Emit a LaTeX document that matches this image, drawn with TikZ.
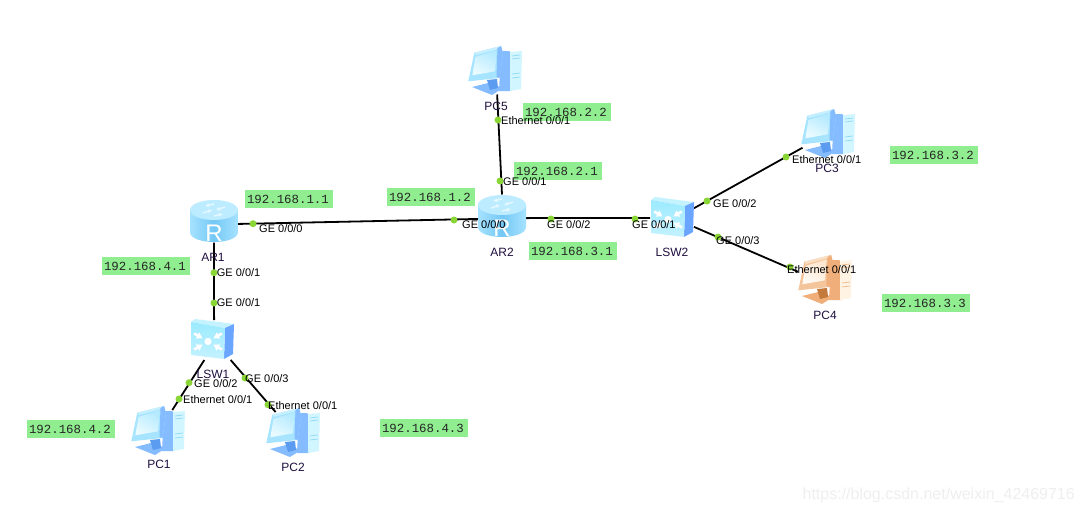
\documentclass[tikz,border=0pt]{standalone}
\usepackage{fontspec}
\setmainfont{Liberation Sans}
\newfontfamily\ipfont{Liberation Mono}
\usetikzlibrary{arrows.meta}
\definecolor{ipgreen}{HTML}{90EE90}
\definecolor{dotgreen}{HTML}{8AD637}
\definecolor{labelpurple}{HTML}{1F0F3F}
\definecolor{wmgray}{HTML}{EFEFEF}
\definecolor{routerA}{HTML}{74C8F5}
\definecolor{routerB}{HTML}{A6E2FF}
\definecolor{routerC}{HTML}{BDEBFF}
\definecolor{routerD}{HTML}{E4F8FF}
\definecolor{switchA}{HTML}{9CEAFF}
\definecolor{switchB}{HTML}{6AA6FF}
\definecolor{switchC}{HTML}{C4F2FF}
\definecolor{pcA}{HTML}{D2F6FF}
\definecolor{pcB}{HTML}{85BCFF}
\definecolor{pcC}{HTML}{8FD8F8}
\definecolor{pcD}{HTML}{5C9CF0}
\definecolor{pcE}{HTML}{A6E4FF}
\definecolor{pcF}{HTML}{C6F0FF}
\definecolor{pcG}{HTML}{B5EAFF}
\definecolor{pcH}{HTML}{EAFBFF}
\definecolor{orA}{HTML}{FFF3E4}
\definecolor{orB}{HTML}{EFAE7A}
\definecolor{orC}{HTML}{EDB98C}
\definecolor{orD}{HTML}{C47A3C}
\definecolor{orE}{HTML}{F4C49A}
\definecolor{orF}{HTML}{F9DFC4}
\definecolor{orG}{HTML}{FDE6CF}
\definecolor{orH}{HTML}{FFFAF3}
\newcommand{\pcicon}[9]{%
 \begin{scope}[shift={(#1)}]
  % tower
  \fill[#3] (6,-19) -- (14,-19) -- (16,-17) -- (16,21) -- (4,21) -- cycle;
  \fill[#2] (15,-18) -- (27,-19) -- (26,19) -- (15,21) -- cycle;
  \draw[#4,line width=.7pt] (17,-14) -- (25,-15) (17,-11) -- (25,-12) (17,4) -- (25,3) (17,8) -- (25,7);
  % stand
  \fill[#3] (-23,17) -- (-7,13) -- (8,18) -- (-3,25) -- cycle;
  \fill[#5] (-8,10) -- (2,9) -- (3,18) -- (-5,20) -- cycle;
  % monitor
  \fill[#6] (-20.7,-17.3) -- (6,-24) -- (8,-17) -- (4.5,8) -- (-26.7,11.3) -- cycle;
  \fill[#7] (-20.7,-17.3) -- (6,-24) -- (3.3,-21) -- (-19,-15) -- cycle;
  \shade[left color=#8,right color=#9,shading angle=-30] (-19.5,-13) -- (1.7,-19.7) -- (0,1.3) -- (-22.7,5.3) -- cycle;
  \fill[#3] (2.5,-22) -- (6,-24) -- (8,-17) -- (4.5,8) -- (1.5,7) -- cycle;
 \end{scope}}
\tikzset{rarrow/.style={routerD,line width=1.5pt,-{Latex[length=4pt,width=4.5pt]}}}
\newcommand{\routericon}[1]{%
 \begin{scope}[shift={(#1)}]
  \shade[left color=routerB,right color=routerB,middle color=routerA]
    (-24,-11) -- (-24,11) .. controls (-24,24.3) and (24,24.3) .. (24,11) -- (24,-11) -- cycle;
  \fill[routerC] (0,-11) ellipse[x radius=24,y radius=10];
  \draw[rarrow] (-11,-8) -- (-2,-11);
  \draw[rarrow] (11,-14) -- (2,-11);
  \draw[rarrow] (0,-17) -- (-9,-15);
  \draw[rarrow] (0,-5) -- (9,-7);
  \node[font=\fontsize{24}{24}\selectfont,text=white,inner sep=0pt] at (0,12.5) {R};
 \end{scope}}
\newcommand{\switchicon}[1]{%
 \begin{scope}[shift={(#1)}]
  \fill[switchC] (-21,-18) -- (-17,-21) -- (22,-16) -- (13,-12) -- cycle;
  \fill[switchB] (13,-12) -- (22,-16) -- (21,14) -- (12,19) -- cycle;
  \shade[top color=switchA,bottom color=switchC] (-21,-18) -- (13,-12) -- (12,19) -- (-21,15) -- cycle;
  \fill[white] (-4,1.5) circle[radius=3.6];
  \foreach \ang in {30,150,210,330}{
    \draw[white,line width=2.6pt,-{Latex[length=6pt,width=8pt]},shift={(-4,1.5)}] (\ang:16) -- (\ang:6);}
 \end{scope}}
\tikzset{
  devbox/.style={inner sep=0pt,outer sep=0pt,rectangle},
  conn/.style={draw=black,line width=1.8pt},
  connpc/.style={conn,shorten >=-6pt},
  port/.style={circle,fill=dotgreen,inner sep=0pt,minimum size=7pt},
  plabel/.style={font=\fontsize{11}{12}\selectfont,anchor=west,inner sep=0pt,text=black},
  devlabel/.style={font=\fontsize{12}{13}\selectfont,inner sep=0pt,text=labelpurple},
  ipbox/.style={fill=ipgreen,anchor=north west,inner sep=0pt,minimum width=87.5pt,minimum height=17.5pt,
     font=\ipfont\fontsize{12.4}{13}\selectfont,text=black!85,execute at begin node={\hspace*{-2pt}}},
  wmark/.style={font=\fontsize{16}{17}\selectfont,text=wmgray,inner sep=0pt,anchor=east}
}
\begin{document}
\begin{tikzpicture}[x=1pt,y=-1pt]
\useasboundingbox (0,0) rectangle (1084,514);
\fill[white] (0,0) rectangle (1084,514);
% device footprints
\node[devbox,minimum width=48pt,minimum height=43pt] (AR1) at (214,221) {};
\node[devbox,minimum width=48pt,minimum height=43pt] (AR2) at (502,216) {};
\node[devbox,minimum width=43pt,minimum height=40pt] (LSW1) at (212,340) {};
\node[devbox,minimum width=44pt,minimum height=41pt] (LSW2) at (672,218) {};
\node[devbox,minimum width=53pt,minimum height=50pt] (PC1) at (158,430) {};
\node[devbox,minimum width=51pt,minimum height=49pt] (PC2) at (293,432) {};
\node[devbox,minimum width=51pt,minimum height=50pt] (PC3) at (828,133) {};
\node[devbox,minimum width=54pt,minimum height=48pt] (PC4) at (825,279) {};
\node[devbox,minimum width=53pt,minimum height=49pt] (PC5) at (495,70) {};
% connectors
\draw[conn] (AR1.353) -- (AR2.187);
\draw[conn] (AR1.south) -- (LSW1.84);
\draw[connpc] (LSW1.249) -- (PC1.55);
\draw[connpc] (LSW1.313) -- (PC2.131);
\draw[conn] (PC5.275) -- (AR2.north);
\draw[conn] (AR2.355) -- (LSW2.west);
\draw[conn] (LSW2.24) -- (PC3.210);
\draw[conn] (LSW2.338) -- (PC4.165);
% icons
\routericon{214,221}
\routericon{502,216}
\switchicon{212,340}
\switchicon{672,218}
\pcicon{158,430}{pcA}{pcB}{pcC}{pcD}{pcE}{pcF}{pcG}{pcH}
\pcicon{293,432}{pcA}{pcB}{pcC}{pcD}{pcE}{pcF}{pcG}{pcH}
\pcicon{828,133}{pcA}{pcB}{pcC}{pcD}{pcE}{pcF}{pcG}{pcH}
\pcicon{495,70}{pcA}{pcB}{pcC}{pcD}{pcE}{pcF}{pcG}{pcH}
\pcicon{825,279}{orA}{orB}{orC}{orD}{orE}{orF}{orG}{orH}
% IP boxes
\node[ipbox] (ip11) at (245,190) {192.168.1.1};
\node[ipbox] (ip12) at (387,188) {192.168.1.2};
\node[ipbox] (ip41) at (102,257) {192.168.4.1};
\node[ipbox] (ip42) at (27,420) {192.168.4.2};
\node[ipbox] (ip43) at (380,419) {192.168.4.3};
\node[ipbox] (ip22) at (523,103) {192.168.2.2};
\node[ipbox] (ip21) at (514,162) {192.168.2.1};
\node[ipbox] (ip31) at (529,242) {192.168.3.1};
\node[ipbox] (ip32) at (890,146) {192.168.3.2};
\node[ipbox] (ip33) at (882,294) {192.168.3.3};
% ports
\node[port] (p1) at (253,223.7) {};
\node[port] (p2) at (214,272.7) {};
\node[port] (p3) at (214,303) {};
\node[port] (p4) at (189,382.7) {};
\node[port] (p5) at (179,399) {};
\node[port] (p6) at (245,378) {};
\node[port] (p7) at (268,404.7) {};
\node[port] (p8) at (498,120) {};
\node[port] (p9) at (500,181) {};
\node[port] (p10) at (454,220) {};
\node[port] (p11) at (551,219) {};
\node[port] (p12) at (635,219) {};
\node[port] (p13) at (707,201) {};
\node[port] (p14) at (718,237) {};
\node[port] (p15) at (786,157) {};
\node[port] (p16) at (790,267) {};
% port labels
\node[plabel] (l1) at (259,229) {GE 0/0/0};
\node[plabel] (l2) at (216.7,272.7) {GE 0/0/1};
\node[plabel] (l3) at (216.7,303) {GE 0/0/1};
\node[plabel] (l4) at (194,384) {GE 0/0/2};
\node[plabel] (l5) at (183,400) {Ethernet 0/0/1};
\node[plabel] (l6) at (245,379) {GE 0/0/3};
\node[plabel] (l7) at (268,406) {Ethernet 0/0/1};
\node[plabel] (l8) at (501,121) {Ethernet 0/0/1};
\node[plabel] (l9) at (503,182) {GE 0/0/1};
\node[plabel] (l10) at (462,225) {GE 0/0/0};
\node[plabel] (l11) at (547,225) {GE 0/0/2};
\node[plabel] (l12) at (632,225) {GE 0/0/1};
\node[plabel] (l13) at (713,204) {GE 0/0/2};
\node[plabel] (l14) at (716,241) {GE 0/0/3};
\node[plabel] (l15) at (792,160) {Ethernet 0/0/1};
\node[plabel] (l16) at (787,270) {Ethernet 0/0/1};
% device names
\node[devlabel] (nAR1) at (213,257) {AR1};
\node[devlabel] (nAR2) at (502,252) {AR2};
\node[devlabel] (nLSW1) at (213,374) {LSW1};
\node[devlabel] (nLSW2) at (672,252) {LSW2};
\node[devlabel] (nPC1) at (159,464) {PC1};
\node[devlabel] (nPC2) at (293,467) {PC2};
\node[devlabel] (nPC3) at (827,168) {PC3};
\node[devlabel] (nPC4) at (825,315) {PC4};
\node[devlabel] (nPC5) at (496,106) {PC5};
% watermark
\node[wmark] (wm) at (1075,495) {https://blog.csdn.net/weixin\_42469716};
\end{tikzpicture}
\end{document}
